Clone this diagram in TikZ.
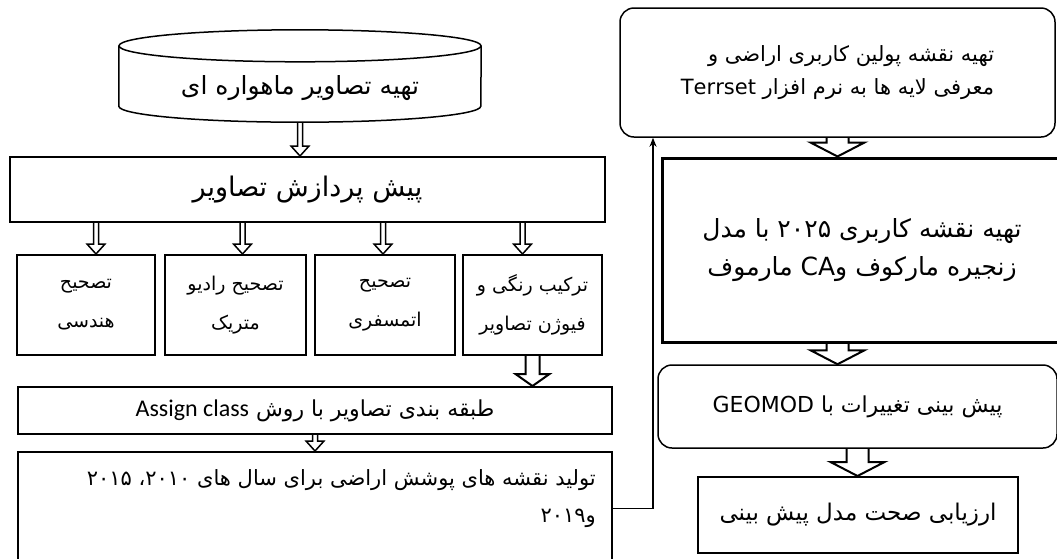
\documentclass[tikz,border=0pt]{standalone}
\usepackage{fontspec}
\usepackage{tikz}
\usetikzlibrary{arrows.meta,calc}
\TeXXeTstate=1
\newfontfamily\fa[Script=Arabic]{DejaVu Sans}
\newfontfamily\lat{Carlito}

\tikzset{
	box/.style={draw, line width=2pt, inner sep=0pt},
	rbox/.style={draw, line width=1.5pt, rounded corners=14pt, inner sep=0pt},
	stepbox/.style={box, minimum width=140pt, minimum height=100pt, align=center, font=\fa\fontsize{19}{39}\selectfont},
	hollow/.style n args={3}{to path={let \p1=(\tikztostart), \p2=(\tikztotarget) in
		(\x1-#1,\y1) -- (\x1-#1,\y2+#3) -- (\x1-#2,\y2+#3) -- (\x1,\y2) -- (\x1+#2,\y2+#3) -- (\x1+#1,\y2+#3) -- (\x1+#1,\y1)}},
	thinarr/.style={line width=1.5pt, hollow={2.5pt}{9pt}{10pt}},
	midarr/.style={line width=2pt, hollow={7pt}{17pt}{12pt}},
	widearr/.style={line width=2pt, hollow={11pt}{27pt}{14pt}},
}

\begin{document}
\begin{tikzpicture}[x=1pt, y=-1pt, >={Stealth[length=9pt, width=7pt]}]
	\useasboundingbox (0,0) rectangle (1057,558);

	\node[minimum width=362pt, minimum height=92pt, inner sep=0pt, font=\fa\fontsize{25}{30}\selectfont] (sat) at (300,76) {\raisebox{-18pt}[0pt][0pt]{\beginR تهیه تصاویر ماهواره ای\endR}};
	\draw[line width=1.5pt] ([yshift=-16pt]sat.north) ellipse [x radius=181pt, y radius=16pt];
	\draw[line width=1.5pt] ([yshift=-16pt]sat.north west) -- ([yshift=16pt]sat.south west) arc [start angle=180, end angle=360, x radius=181pt, y radius=16pt] -- ([yshift=-16pt]sat.north east);

	\node[box, minimum width=595pt, minimum height=65pt, font=\fa\fontsize{27}{30}\selectfont] (pre) at (307.5,189.5) {\beginR پیش پردازش تصاویر\endR};

	\node[stepbox, minimum width=138pt] (c1) at (86,305) {\beginR تصحیح\endR\\\beginR هندسی\endR};
	\node[stepbox, minimum width=141pt] (c2) at (235.5,305) {\beginR تصحیح رادیو\endR\\\beginR متریک\endR};
	\node[stepbox] (c3) at (385,305) {\beginR تصحیح\endR\\\beginR اتمسفری\endR};
	\node[stepbox, minimum width=139pt] (c4) at (532.5,305) {\beginR ترکیب رنگی و\endR\\\beginR فیوژن تصاویر\endR};

	\node[box, minimum width=594pt, minimum height=47pt, font=\fa\fontsize{22}{24}\selectfont] (cls) at (315,410.5) {\beginR طبقه بندی تصاویر با روش \beginL{\lat\fontsize{24}{24}\selectfont Assign class}\endL\endR};

	\node[box, minimum width=594pt, minimum height=113pt] (out) at (315,508.5) {};
	\node[anchor=north east, inner sep=0pt, align=right, font=\fa\fontsize{21}{37}\selectfont] (outtext) at ([xshift=-17pt, yshift=-18pt]out.north east) {\beginR تولید نقشه های پوشش اراضی برای سال های \beginL۲۰۱۰\endL، \beginL۲۰۱۵\endL\endR\\\beginR و\beginL۲۰۱۹\endL\endR};

	\node[rbox, minimum width=435pt, minimum height=129pt, align=right, font=\fa\fontsize{21}{33}\selectfont] (r1) at (837.5,72.5) {\beginR تهیه نقشه پولین کاربری اراضی و\endR\\\beginR معرفی لایه ها به نرم افزار \beginL Terrset\endL\endR};
	\node[box, line width=3pt, minimum width=400pt, minimum height=184pt, align=center, font=\fa\fontsize{25}{38}\selectfont] (r2) at (862,250) {\beginR تهیه نقشه کاربری \beginL۲۰۲۵\endL{} با مدل\endR\\\beginR زنجیره مارکوف و\beginL CA\endL{} مارموف\endR};
	\node[rbox, minimum width=399pt, minimum height=83pt, font=\fa\fontsize{22}{26}\selectfont] (r3) at (857.5,406.5) {\beginR پیش بینی تغییرات با \beginL GEOMOD\endL\endR};
	\node[box, minimum width=320pt, minimum height=76pt, font=\fa\fontsize{23}{26}\selectfont] (r4) at (858,515) {\beginR ارزیابی صحت مدل پیش بینی\endR};

	\draw[thinarr] (sat.south) to (pre.north);
	\foreach \bx/\dx in {c1/10,c2/7,c3/-2,c4/-10}
		\draw[thinarr] ([xshift=\dx pt]pre.south -| \bx.north) to (\bx.north);
	\draw[midarr] (c4.south) to (cls.north -| c4.south);
	\draw[thinarr] (cls.south) to (out.north);
	\draw[widearr] (r1.south) to (r2.north -| r1.south);
	\draw[widearr] (r2.south -| r1.south) to (r3.north -| r1.south);
	\draw[widearr] (r3.south) to (r4.north -| r3.south);

	\coordinate (up) at (653,0);
	\draw[->, line width=1.5pt] (out.east) -| (up |- r1.south);
\end{tikzpicture}
\end{document}
